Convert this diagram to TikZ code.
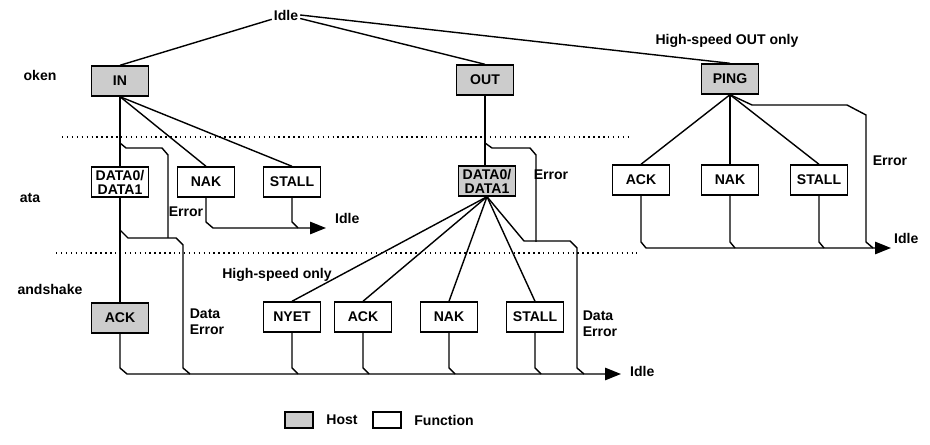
\documentclass[tikz,border=0pt]{standalone}
\usepackage{fontspec}
\setmainfont{Liberation Sans}
\usetikzlibrary{arrows.meta, positioning}
\tikzset{
  box/.style={rectangle, draw=black, thick, minimum width=1.14cm, minimum height=0.6cm, inner sep=1pt, align=center, font=\bfseries\fontsize{8}{8}\selectfont, fill=white},
  host/.style={box, fill=black!20},
  lbl/.style={font=\bfseries\fontsize{8}{9}\selectfont, align=left, inner sep=1pt},
  wire/.style={thick},
  toidle/.style={thick, -{Triangle[length=9pt,width=7pt]}}
}
\begin{document}
\begin{tikzpicture}[x=0.02cm, y=-0.02cm]
\useasboundingbox (0,0) rectangle (930,445);

% Dotted separators
\draw[dotted, thick] (62,137) -- (630,137);
\draw[dotted, thick] (56,253) -- (637,253);

% Row labels
\node[lbl] at (40,75) {oken};
\node[lbl] at (30,198) {ata};
\node[lbl] at (50,289) {andshake};

% Token row
\node[lbl] (idle) at (286,15) {Idle};
\node[host] (in) at (120,81) {IN};
\node[host] (out) at (485,80) {OUT};
\node[host] (ping) at (730,79) {PING};
\node[lbl] at (727,41) {High-speed OUT only};

% Data row
\node[box] (dl) at (120,182) {DATA0/\\DATA1};
\node[box] (nakl) at (206,182) {NAK};
\node[box] (stalll) at (292,182) {STALL};
\node[host] (dm) at (487,181) {DATA0/\\DATA1};
\node[box] (ackp) at (641,180) {ACK};
\node[box] (nakp) at (730,180) {NAK};
\node[box] (stallp) at (819,180) {STALL};

% Handshake row
\node[host] (ackl) at (120,318) {ACK};
\node[box] (nyet) at (292,317) {NYET};
\node[box] (ackm) at (363,317) {ACK};
\node[box] (nakm) at (449,317) {NAK};
\node[box] (stallm) at (535,317) {STALL};
\node[lbl] at (277,275) {High-speed only};

% Idle targets
\node[lbl, anchor=west] (idlea) at (333,218) {Idle};
\node[lbl, anchor=west] (idleb) at (628,371) {Idle};
\node[lbl, anchor=west] (idlec) at (892,238) {Idle};
\coordinate (ea) at (326,228);
\coordinate (eb) at (621,374);
\coordinate (ec) at (891,248);

% Error labels
\node[lbl] at (186,212) {Error};
\node[lbl] at (551,175) {Error};
\node[lbl] at (890,161) {Error};
\node[lbl] at (207,322) {Data\\Error};
\node[lbl] at (600,324) {Data\\Error};

% Token fan-out
\draw[wire] (idle) -- (in.north);
\draw[wire] (idle) -- (out.north);
\draw[wire] (idle.east) -- (ping.north);
\draw[wire] (in.south) -- (dl.north);
\draw[wire] (in.south) -- (nakl.north);
\draw[wire] (in.south) -- (stalll.north);
\draw[wire] (out.south) -- (dm.north -| out.south);
\draw[wire] (ping.south) -- (ackp.north);
\draw[wire] (ping.south) -- (nakp.north);
\draw[wire] (ping.south) -- (stallp.north);
\draw[wire] (dm.south) -- (nyet.north);
\draw[wire] (dm.south) -- (ackm.north);
\draw[wire] (dm.south) -- (nakm.north);
\draw[wire] (dm.south) -- (stallm.north);

% IN transaction
\draw[wire] (120,143) -- (126,148) -- (162,148) -- (168,155) -- (168,238);
\draw[wire] (dl.south) -- (120,230) -- (128,238) -- (176,238) -- (183,245) -- (183,368) -- (190,374);
\draw[wire] (dl.south) -- (ackl.north);
\draw[toidle] (ackl.south) -- (120,368) -- (127,374) -- (eb);
\draw[toidle] (nakl.south) -- (206,222) -- (213,228) -- (ea);
\draw[wire] (stalll.south) -- (292,222) -- (298,228);

% OUT transaction
\draw[wire] (485,143) -- (492,148) -- (530,148) -- (536,155) -- (536,242);
\draw[wire] (dm.south) -- (524,241) -- (570,241) -- (577,248) -- (577,368) -- (584,374);
\draw[wire] (nyet.south) -- (292,368) -- (298,374);
\draw[wire] (ackm.south) -- (363,368) -- (369,374);
\draw[wire] (nakm.south) -- (449,368) -- (455,374);
\draw[wire] (stallm.south) -- (535,368) -- (541,374);

% PING transaction
\draw[wire] (ping.south) -- (752,105) -- (847,105) -- (866,115) -- (866,242) -- (873,248);
\draw[toidle] (ackp.south) -- (641,242) -- (646,248) -- (ec);
\draw[wire] (nakp.south) -- (730,242) -- (735,248);
\draw[wire] (stallp.south) -- (819,242) -- (824,248);

% Legend
\node[host, minimum width=0.56cm, minimum height=0.32cm] (lh) at (299,420) {};
\node[lbl, right=6pt of lh] {Host};
\node[box, minimum width=0.56cm, minimum height=0.32cm] (lf) at (387,420) {};
\node[lbl, right=6pt of lf] {Function};
\end{tikzpicture}
\end{document}
